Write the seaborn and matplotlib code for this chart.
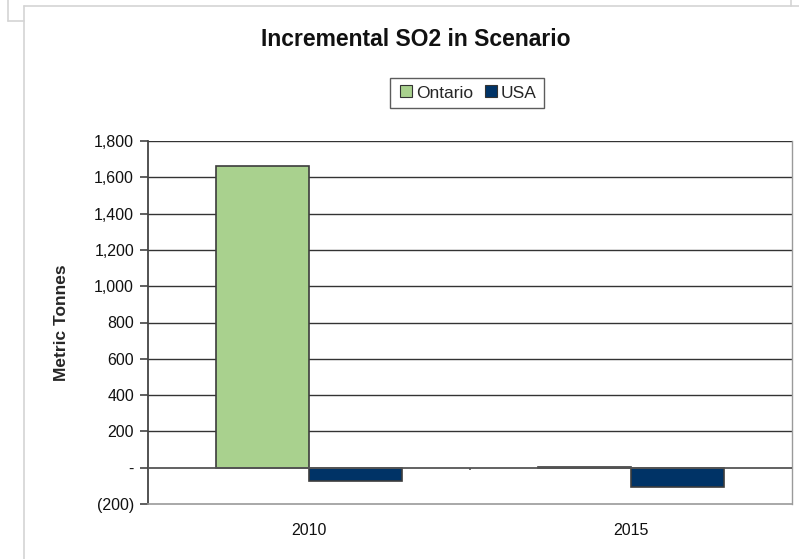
import matplotlib
matplotlib.use("Agg")
import matplotlib.pyplot as plt
from matplotlib.lines import Line2D
from matplotlib.ticker import FixedLocator, FuncFormatter
import seaborn as sns
import pandas as pd

# Incremental SO2 by region and year (metric tonnes)
years = ["2010", "2015"]
regions = ["Ontario", "USA"]
ontario = [1665, 4]
usa = [-75, -108]
y_ticks = [-200, 0, 200, 400, 600, 800, 1000, 1200, 1400, 1600, 1800]

df = pd.DataFrame({
    "Year": years * 2,
    "Region": [regions[0]] * len(years) + [regions[1]] * len(years),
    "Tonnes": ontario + usa,
})

sns.set_theme(style="white")
plt.rcParams["font.family"] = ["Liberation Sans", "DejaVu Sans"]

W, H = 799, 559
fig = plt.figure(figsize=(W / 100, H / 100), dpi=100)
fig.patch.set_facecolor("white")

def fx(px):
    return px / W

def fy(py):
    return 1 - py / H

ax = fig.add_axes([fx(148), fy(504), fx(792) - fx(148), fy(141) - fy(504)])

palette = {"Ontario": "#A9D18E", "USA": "#003366"}
sns.barplot(data=df, x="Year", y="Tonnes", hue="Region", order=years,
            hue_order=regions, palette=palette, width=0.578, gap=0,
            edgecolor="#3c3c3c", linewidth=1.2, saturation=1, ax=ax,
            legend=False, zorder=3)

ax.set_xlim(-0.5, 1.5)
ax.set_ylim(-200, 1800)

# gridlines at every positive tick
for v in y_ticks:
    if v > 0:
        ax.axhline(v, color="#333333", lw=1.0, zorder=1)
ax.axhline(0, color="#555555", lw=1.3, zorder=4)

# tick between categories on the value-zero category axis
ax.vlines(0.5, -14, 0, color="#555555", lw=1.2, zorder=4)

ax.yaxis.set_major_locator(FixedLocator(y_ticks))

def fmt(v, pos):
    if v == 0:
        return "-"
    if v < 0:
        return f"({abs(int(v)):,})"
    return f"{int(v):,}"

ax.yaxis.set_major_formatter(FuncFormatter(fmt))
ax.tick_params(axis="y", which="major", left=True, length=6, width=1.2,
               color="#444444", labelsize=11.5, pad=4, labelcolor="#111111")
ax.tick_params(axis="x", length=0, labelsize=11.5, pad=14, labelcolor="#111111")

ax.spines["top"].set_visible(False)
ax.spines["left"].set_color("#444444")
ax.spines["left"].set_linewidth(1.3)
ax.spines["bottom"].set_color("#9a9a9a")
ax.spines["bottom"].set_linewidth(1.2)
ax.spines["right"].set_color("#9a9a9a")
ax.spines["right"].set_linewidth(1.0)

ax.set_xlabel("")
ax.set_ylabel("Metric Tonnes", fontsize=12.5, fontweight="bold", labelpad=18)

fig.text(fx(416), fy(40), "Incremental SO2 in Scenario", ha="center",
         va="center", fontsize=16.5, fontweight="bold", color="#111111")

handles = [Line2D([0], [0], marker="s", linestyle="none", markersize=8,
                  markerfacecolor=palette[r], markeredgecolor="#333333",
                  markeredgewidth=0.8, label=r) for r in regions]
leg = fig.legend(handles=handles, loc="center", ncol=2,
                 bbox_to_anchor=(fx(467), fy(93)), frameon=True, fancybox=False,
                 fontsize=12.5, handletextpad=0.1, columnspacing=0.5,
                 borderpad=0.4, handlelength=1.0)
leg.get_frame().set_edgecolor("#333333")
leg.get_frame().set_linewidth(1.0)

# surrounding sheet frame lines
frame_col = "#d4d4d4"
for (x0, y0, x1, y1) in [(8, 0, 8, 21), (8, 21, 24, 21), (24, 6, 24, 559),
                         (24, 6, 799, 6), (791, 0, 791, 6)]:
    fig.add_artist(Line2D([fx(x0), fx(x1)], [fy(y0), fy(y1)],
                          transform=fig.transFigure, color=frame_col, lw=1.2))

fig.savefig("out.png", dpi=100, facecolor="white")
